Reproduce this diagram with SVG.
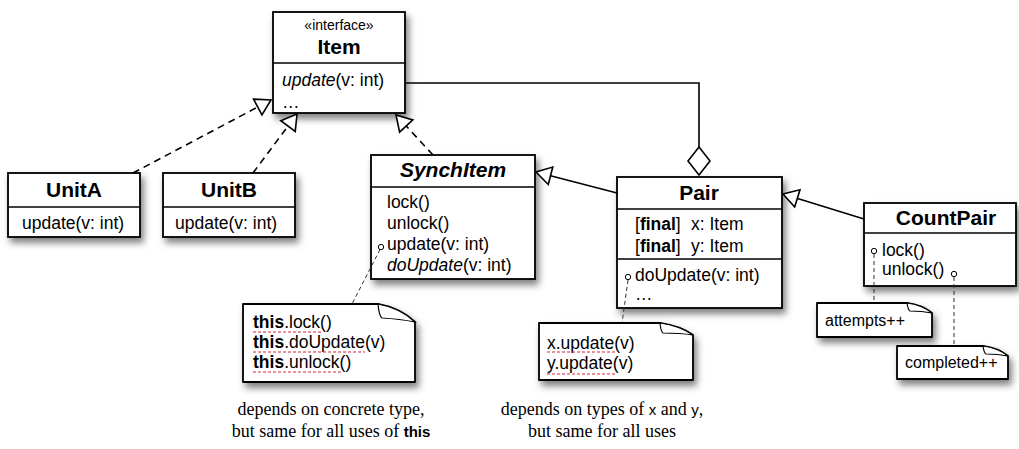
<svg xmlns="http://www.w3.org/2000/svg" width="1019" height="449" viewBox="0 0 1019 449">
  <defs>
    <filter id="shadow" x="-20%" y="-20%" width="150%" height="160%">
      <feDropShadow dx="3" dy="5" stdDeviation="3.5" flood-color="#000" flood-opacity="0.5"/>
    </filter>
    <marker id="hollow" markerUnits="userSpaceOnUse" markerWidth="18" markerHeight="22" refX="16" refY="10" orient="auto" overflow="visible">
      <path d="M1,1 L16,10 L1,19 Z" fill="#fff" stroke="#000" stroke-width="1.6" stroke-linejoin="miter"/>
    </marker>
  </defs>
  <style>
    .box { fill: #fff; stroke: #000; stroke-width: 1.8; }
    .div { stroke: #000; stroke-width: 1.5; fill: none; }
    .title { font-family: "Liberation Sans", Arial, sans-serif; font-weight: 700; font-size: 21px; fill: #000; }
    .mem { font-family: "Liberation Sans", Arial, sans-serif; font-size: 17.5px; fill: #000; }
    .small { font-family: "Liberation Sans", Arial, sans-serif; font-size: 14px; fill: #000; }
    .note { fill: #fff; stroke: #000; stroke-width: 1.8; stroke-linejoin: round; }
    .flap { fill: #fff; stroke: #000; stroke-width: 1.2; }
    .ntext { font-family: "Liberation Sans", Arial, sans-serif; font-size: 17.5px; fill: #000; }
    .ntext2 { font-family: "Liberation Sans", Arial, sans-serif; font-size: 16px; fill: #000; }
    .ul { stroke: #d8283c; stroke-width: 1.2; stroke-dasharray: 3 2; fill: none; }
    .real { stroke: #000; stroke-width: 1.6; stroke-dasharray: 7 5; fill: none; }
    .gen { stroke: #000; stroke-width: 1.6; fill: none; }
    .anchor { stroke: #333; stroke-width: 1; stroke-dasharray: 4 3; fill: none; }
    .pin { fill: #fff; stroke: #000; stroke-width: 1; }
    .cap { font-family: "Liberation Serif", "Times New Roman", serif; font-size: 18px; fill: #000; }
    .capsans { font-family: "Liberation Sans", Arial, sans-serif; font-size: 15px; }
  </style>

  <g id="Item">
    <rect class="box" x="273" y="12" width="132" height="101" filter="url(#shadow)"/>
    <line class="div" x1="273" y1="63" x2="405" y2="63"/>
    <text class="small" x="339" y="30" text-anchor="middle">«interface»</text>
    <text class="title" x="339" y="54" text-anchor="middle">Item</text>
    <text class="mem" x="282" y="86"><tspan font-style="italic">update</tspan>(v: int)</text>
    <text class="mem" x="282" y="108">…</text>
  </g>

  <g id="UnitA">
    <rect class="box" x="8" y="173" width="132" height="64" filter="url(#shadow)"/>
    <line class="div" x1="8" y1="207" x2="140" y2="207"/>
    <text class="title" x="74" y="197" text-anchor="middle">UnitA</text>
    <text class="mem" x="22" y="229">update(v: int)</text>
  </g>

  <g id="UnitB">
    <rect class="box" x="163" y="173" width="132" height="64" filter="url(#shadow)"/>
    <line class="div" x1="163" y1="207" x2="295" y2="207"/>
    <text class="title" x="229" y="197" text-anchor="middle">UnitB</text>
    <text class="mem" x="175" y="229">update(v: int)</text>
  </g>

  <g id="SynchItem">
    <rect class="box" x="371" y="155" width="164" height="124" filter="url(#shadow)"/>
    <line class="div" x1="371" y1="187" x2="535" y2="187"/>
    <text class="title" x="453" y="177" text-anchor="middle" font-style="italic">SynchItem</text>
    <text class="mem" x="387" y="208">lock()</text>
    <text class="mem" x="387" y="229">unlock()</text>
    <text class="mem" x="387" y="250">update(v: int)</text>
    <text class="mem" x="387" y="271"><tspan font-style="italic">doUpdate</tspan>(v: int)</text>
  </g>

  <g id="Pair">
    <rect class="box" x="617" y="177" width="165" height="131" filter="url(#shadow)"/>
    <line class="div" x1="617" y1="209" x2="782" y2="209"/>
    <line class="div" x1="617" y1="259" x2="782" y2="259"/>
    <text class="title" x="699" y="200" text-anchor="middle">Pair</text>
    <text class="mem" x="635" y="230">[<tspan font-weight="700">final</tspan>]</text>
    <text class="mem" x="691" y="230">x: Item</text>
    <text class="mem" x="635" y="252">[<tspan font-weight="700">final</tspan>]</text>
    <text class="mem" x="691" y="252">y: Item</text>
    <text class="mem" x="635" y="281">doUpdate(v: int)</text>
    <text class="mem" x="635" y="300">…</text>
  </g>

  <g id="CountPair">
    <rect class="box" x="864" y="203" width="152" height="83" filter="url(#shadow)"/>
    <line class="div" x1="864" y1="233" x2="1016" y2="233"/>
    <text class="title" x="946" y="225" text-anchor="middle">CountPair</text>
    <text class="mem" x="882" y="256">lock()</text>
    <text class="mem" x="882" y="275">unlock()</text>
  </g>

  <!-- connectors: realizations, generalizations, aggregation and note anchors -->
  <g id="connectors">
    <line class="real" x1="133" y1="173" x2="271" y2="100" marker-end="url(#hollow)"/>
    <line class="real" x1="253" y1="173" x2="297" y2="114" marker-end="url(#hollow)"/>
    <line class="real" x1="433" y1="155" x2="396" y2="115" marker-end="url(#hollow)"/>
    <line class="gen" x1="617" y1="193" x2="536" y2="172" marker-end="url(#hollow)"/>
    <line class="gen" x1="864" y1="219" x2="783" y2="194" marker-end="url(#hollow)"/>
    <polyline class="gen" points="405,83 699,83 699,147"/>
    <path d="M699,147 L710,161 L699,175 L688,161 Z" fill="#fff" stroke="#000" stroke-width="1.6"/>
    <line class="anchor" x1="380" y1="249.5" x2="352" y2="304"/>
    <line class="anchor" x1="628" y1="280" x2="622" y2="323"/>
    <line class="anchor" x1="874" y1="254" x2="874" y2="303"/>
    <line class="anchor" x1="954" y1="277" x2="954" y2="346"/>
    <circle class="pin" cx="381" cy="247" r="2.7"/>
    <circle class="pin" cx="628" cy="277" r="2.7"/>
    <circle class="pin" cx="874" cy="251" r="2.7"/>
    <circle class="pin" cx="954" cy="274" r="2.7"/>
  </g>

  <g id="note-synch">
    <path class="note" d="M243,304 H378 Q400,308 415,322 V382 H243 Z" filter="url(#shadow)"/>
    <path class="flap" d="M378,304 Q379,316 382,318 Q400,319 415,322 Q400,308 378,304 Z"/>
    <text class="ntext" x="253" y="328"><tspan font-weight="700">this</tspan>.lock()</text>
    <text class="ntext" x="253" y="348"><tspan font-weight="700">this</tspan>.doUpdate(v)</text>
    <text class="ntext" x="253" y="368"><tspan font-weight="700">this</tspan>.unlock()</text>
    <line class="ul" x1="253" y1="332" x2="321" y2="332"/>
    <line class="ul" x1="253" y1="352" x2="365" y2="352"/>
    <line class="ul" x1="253" y1="372" x2="342" y2="372"/>
  </g>

  <g id="note-pair">
    <path class="note" d="M539,323 H660 Q680,326 693,335 V380 H539 Z" filter="url(#shadow)"/>
    <path class="flap" d="M660,323 Q661,332 663,333 Q680,333 693,335 Q680,326 660,323 Z"/>
    <text class="ntext" x="547" y="349">x.update(v)</text>
    <text class="ntext" x="547" y="369">y.update(v)</text>
    <line class="ul" x1="547" y1="352" x2="617" y2="352"/>
    <line class="ul" x1="547" y1="374" x2="617" y2="374"/>
  </g>

  <g id="note-attempts">
    <path class="note" d="M817,303 H907 Q922,305 932,313 V337 H817 Z" filter="url(#shadow)"/>
    <path class="flap" d="M907,303 Q908,310 910,311 Q922,311 932,313 Q922,305 907,303 Z"/>
    <text class="ntext2" x="825" y="326">attempts++</text>
  </g>

  <g id="note-completed">
    <path class="note" d="M897,346 H983 Q998,348 1008,356 V379 H897 Z" filter="url(#shadow)"/>
    <path class="flap" d="M983,346 Q984,353 986,354 Q998,354 1008,356 Q998,348 983,346 Z"/>
    <text class="ntext2" x="905" y="368">completed++</text>
  </g>

  <g id="captions">
    <text class="cap" x="331" y="415" text-anchor="middle">depends on concrete type,</text>
    <text class="cap" x="331" y="437" text-anchor="middle">but same for all uses of <tspan class="capsans" font-weight="700">this</tspan></text>
    <text class="cap" x="602" y="415" text-anchor="middle">depends on types of <tspan class="capsans">x</tspan> and <tspan class="capsans">y</tspan>,</text>
    <text class="cap" x="602" y="437" text-anchor="middle">but same for all uses</text>
  </g>
</svg>
